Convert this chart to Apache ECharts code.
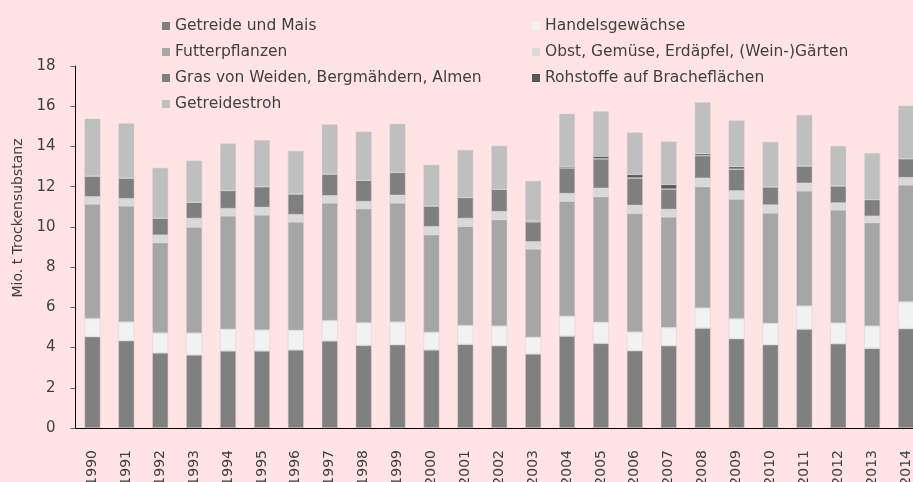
<!DOCTYPE html>
<html>
<head>
<meta charset="utf-8">
<script src="https://cdn.jsdelivr.net/npm/echarts@6/dist/echarts.min.js"></script>
<style>
  html, body { margin: 0; padding: 0; background: #ffe3e5; }
  #chart { width: 913px; height: 482px; }
</style>
</head>
<body>
<div id="chart"></div>
<script>
const years = ['1990', '1991', '1992', '1993', '1994', '1995', '1996', '1997', '1998', '1999',
  '2000', '2001', '2002', '2003', '2004', '2005', '2006', '2007', '2008', '2009',
  '2010', '2011', '2012', '2013', '2014']

// Mio. t Trockensubstanz, bottom to top
const getreide = [4.54, 4.34, 3.73, 3.63, 3.83, 3.83, 3.88, 4.33, 4.11, 4.14,
  3.88, 4.16, 4.09, 3.68, 4.57, 4.21, 3.84, 4.09, 4.96, 4.44,
  4.14, 4.91, 4.19, 3.96, 4.94]
const handel = [0.90, 0.93, 0.99, 1.09, 1.08, 1.04, 0.98, 1.01, 1.12, 1.13,
  0.88, 0.94, 0.98, 0.83, 0.99, 1.04, 0.93, 0.90, 1.01, 0.99,
  1.06, 1.16, 1.03, 1.11, 1.33]
const futter = [5.70, 5.77, 4.49, 5.27, 5.64, 5.72, 5.39, 5.85, 5.67, 5.92,
  4.85, 4.92, 5.29, 4.39, 5.72, 6.25, 5.90, 5.50, 6.03, 5.95,
  5.49, 5.72, 5.62, 5.14, 5.82]
const obst = [0.36, 0.36, 0.38, 0.43, 0.36, 0.38, 0.36, 0.36, 0.36, 0.38,
  0.40, 0.40, 0.40, 0.36, 0.38, 0.42, 0.40, 0.38, 0.42, 0.41,
  0.40, 0.38, 0.35, 0.32, 0.36]
const gras = [1.03, 1.03, 0.85, 0.81, 0.90, 1.03, 1.03, 1.08, 1.06, 1.14,
  1.03, 1.04, 1.11, 0.99, 1.27, 1.46, 1.36, 1.01, 1.12, 1.08,
  0.90, 0.86, 0.85, 0.83, 0.94]
const brache = [0, 0, 0, 0, 0, 0, 0, 0, 0, 0,
  0, 0, 0, 0.05, 0.08, 0.13, 0.18, 0.23, 0.10, 0.13,
  0, 0, 0, 0, 0]
const stroh = [2.85, 2.72, 2.50, 2.07, 2.34, 2.32, 2.14, 2.47, 2.42, 2.42,
  2.05, 2.37, 2.17, 1.99, 2.62, 2.24, 2.09, 2.14, 2.56, 2.30,
  2.24, 2.54, 1.99, 2.31, 2.64]

const yTicks = { min: 0, max: 18, interval: 2 }

const font = 'DejaVu Sans'
const textColor = '#404040'

const mkSeries = (name, data, color) => ({
  name,
  type: 'bar',
  stack: 'total',
  data,
  barWidth: 16,
  itemStyle: { color, borderColor: 'rgba(210,210,210,0.8)', borderWidth: 0.6 },
  emphasis: { disabled: true }
})

const mkLegend = (left, data) => ({
  orient: 'vertical',
  left,
  top: 18,
  padding: 0,
  itemWidth: 8,
  itemHeight: 8,
  itemGap: 10,
  icon: 'rect',
  itemStyle: { borderWidth: 0 },
  textStyle: { fontSize: 15.5, lineHeight: 16, color: textColor, fontFamily: font },
  data
})

const chart = echarts.init(document.getElementById('chart'))
chart.setOption({
  backgroundColor: '#ffe3e5',
  animation: false,
  textStyle: { fontFamily: font },
  legend: [
    mkLegend(162, ['Getreide und Mais', 'Futterpflanzen', 'Gras von Weiden, Bergmähdern, Almen', 'Getreidestroh']),
    mkLegend(532, ['Handelsgewächse', 'Obst, Gemüse, Erdäpfel, (Wein-)Gärten', 'Rohstoffe auf Bracheflächen'])
  ],
  grid: { left: 75.5, right: -10, top: 66, bottom: 54, outerBoundsMode: 'none', containLabel: false },
  xAxis: {
    type: 'category',
    data: years,
    axisLine: { lineStyle: { color: '#000', width: 1 } },
    axisTick: { show: false },
    axisLabel: { rotate: 90, margin: 22, fontSize: 14, color: textColor, fontFamily: font }
  },
  yAxis: {
    type: 'value',
    min: yTicks.min,
    max: yTicks.max,
    interval: yTicks.interval,
    name: 'Mio. t Trockensubstanz',
    nameLocation: 'middle',
    nameGap: 50,
    nameTextStyle: { fontSize: 14, color: textColor, fontFamily: font, padding: [0, 0, 0, 58] },
    splitLine: { show: false },
    axisLine: { show: true, lineStyle: { color: '#000', width: 1 } },
    axisTick: { show: true, length: 5, lineStyle: { color: '#666' } },
    axisLabel: { margin: 20, fontSize: 15, color: textColor, fontFamily: font }
  },
  series: [
    mkSeries('Getreide und Mais', getreide, '#808080'),
    mkSeries('Handelsgewächse', handel, '#f2f2f2'),
    mkSeries('Futterpflanzen', futter, '#a6a6a6'),
    mkSeries('Obst, Gemüse, Erdäpfel, (Wein-)Gärten', obst, '#d9d9d9'),
    mkSeries('Gras von Weiden, Bergmähdern, Almen', gras, '#7f7f7f'),
    mkSeries('Rohstoffe auf Bracheflächen', brache, '#595959'),
    mkSeries('Getreidestroh', stroh, '#bfbfbf')
  ]
})
</script>
</body>
</html>
